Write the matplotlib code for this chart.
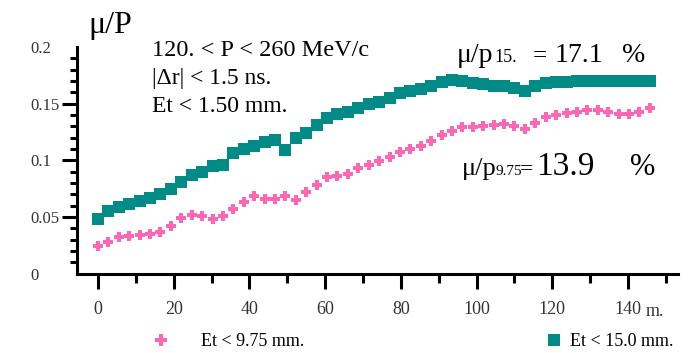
import matplotlib
matplotlib.use("Agg")
import matplotlib.pyplot as plt
from matplotlib.lines import Line2D

plt.rcParams['font.family'] = ['Liberation Serif', 'DejaVu Serif']

# ---- data ----
x_m = [0, 2.75, 5.5, 8.25, 11, 13.75, 16.5, 19.25, 22, 24.75, 27.5, 30.25, 33, 35.75,
       38.5, 41.25, 44, 46.75, 49.5, 52.25, 55, 57.75, 60.5, 63.25, 66, 68.75, 71.5,
       74.25, 77, 79.75, 82.5, 85.25, 88, 90.75, 93.5, 96.25, 99, 101.75, 104.5,
       107.25, 110, 112.75, 115.5, 118.25, 121, 123.75, 126.5, 129.25, 132, 134.75,
       137.5, 140.25, 143, 145.75]

ratio_975 = [0.024, 0.028, 0.032, 0.033, 0.034, 0.035, 0.0365, 0.042, 0.049, 0.052,
             0.051, 0.048, 0.051, 0.057, 0.063, 0.068, 0.066, 0.066, 0.068, 0.065,
             0.072, 0.078, 0.085, 0.086, 0.088, 0.093, 0.096, 0.099, 0.103, 0.107,
             0.110, 0.113, 0.117, 0.122, 0.126, 0.129, 0.129, 0.130, 0.131, 0.132,
             0.130, 0.128, 0.133, 0.138, 0.140, 0.142, 0.143, 0.144, 0.144, 0.143,
             0.141, 0.141, 0.143, 0.146]

ratio_150 = [0.048, 0.055, 0.059, 0.061, 0.064, 0.067, 0.070, 0.075, 0.081, 0.087,
             0.090, 0.095, 0.096, 0.106, 0.110, 0.113, 0.116, 0.118, 0.109, 0.120,
             0.124, 0.131, 0.137, 0.141, 0.143, 0.146, 0.150, 0.151, 0.155, 0.159,
             0.161, 0.163, 0.166, 0.169, 0.171, 0.170, 0.168, 0.167, 0.166, 0.166,
             0.164, 0.161, 0.166, 0.168, 0.169, 0.169, 0.170, 0.170, 0.170, 0.170,
             0.170, 0.170, 0.170, 0.170]

x_ticks = [0, 20, 40, 60, 80, 100, 120, 140]
x_tick_labels = ["0", "20", "40", "60", "80", "100", "120", "140"]
x_minor = [10, 30, 50, 70, 90, 110, 130, 150]
y_ticks = [0, 0.05, 0.1, 0.15, 0.2]
y_tick_labels = ["0", "0.05", "0.1", "0.15", "0.2"]

PINK = '#ff66b4'
TEAL = '#008b87'

W, H = 700, 353
fig = plt.figure(figsize=(7.0, 3.53), dpi=100)
ax = fig.add_axes([77 / W, 1 - 273.5 / H, (678 - 77) / W, (273.5 - 47) / H])

ax.plot(x_m, ratio_150, linestyle='none', marker='s', markersize=8.6,
        color=TEAL, markeredgewidth=0)
ax.plot(x_m, ratio_975, linestyle='none', marker='P', markersize=7.2,
        color=PINK, markeredgewidth=0)

ax.set_xlim(-5.55, 153.2)
ax.set_ylim(0, 0.2)

for s in ['top', 'right']:
    ax.spines[s].set_visible(False)
for s in ['left', 'bottom']:
    ax.spines[s].set_linewidth(2.2)

ax.set_xticks(x_ticks)
ax.set_xticklabels(x_tick_labels, fontsize=13)
ax.set_xticks(x_minor, minor=True)
ax.set_yticks(y_ticks)
ax.set_yticklabels(y_tick_labels, fontsize=12)
ax.set_yticks([v / 100 for v in range(1, 20) if v % 5 != 0], minor=True)

ax.tick_params(axis='x', which='major', direction='out', length=10.8, width=2.2,
               pad=9)
ax.tick_params(axis='x', which='minor', direction='out', length=6.5, width=2.2)
ax.tick_params(axis='y', which='major', direction='out', length=10.8, width=2.2,
               pad=23)
ax.tick_params(axis='y', which='minor', direction='out', length=5, width=2.2)
for lbl in ax.get_yticklabels():
    lbl.set_horizontalalignment('left')
yt = ax.yaxis.get_major_ticks()
yt[0].tick1line.set_visible(False)
yt[-1].tick1line.set_visible(False)

for lbl in ax.get_xticklabels() + ax.get_yticklabels():
    lbl.set_color('#333333')


def ftext(px, py, s, **kw):
    fig.text(px / W, 1 - py / H, s, **kw)


# axis title
ftext(88, 33, "μ/P", fontsize=23, va='baseline', ha='left')
ftext(646, 312, "m.", fontsize=13, va='center', ha='left', color='#333333')

# cuts
ftext(152, 56, "120. < P < 260 MeV/c", fontsize=17.5, va='baseline', ha='left')
ftext(152, 84, "|Δr| < 1.5 ns.", fontsize=17, va='baseline', ha='left')
ftext(152, 112, "Et < 1.50 mm.", fontsize=17, va='baseline', ha='left')

# efficiencies
ftext(457, 62, "μ/p", fontsize=20, va='baseline', ha='left')
ftext(494, 62, "15.", fontsize=13, va='baseline', ha='left')
ftext(533, 62, "=", fontsize=18, va='baseline', ha='left')
ftext(555, 62, "17.1", fontsize=20, va='baseline', ha='left')
ftext(622, 62, "%", fontsize=20, va='baseline', ha='left')

ftext(462, 175, "μ/p", fontsize=19, va='baseline', ha='left')
ftext(495, 175, "9.75", fontsize=11, va='baseline', ha='left')
ftext(520, 175, "=", fontsize=17, va='baseline', ha='left')
ftext(536, 175, "13.9", fontsize=24, va='baseline', ha='left')
ftext(630, 175, "%", fontsize=22, va='baseline', ha='left')

# legend
h1 = Line2D([], [], linestyle='none', marker='P', markersize=8, color=PINK,
            markeredgewidth=0)
h2 = Line2D([], [], linestyle='none', marker='s', markersize=9, color=TEAL,
            markeredgewidth=0)
fig.legend([h1], ["Et < 9.75 mm."], loc='center left',
           bbox_to_anchor=(152 / W, 1 - 342 / H), frameon=False, fontsize=13,
           handlelength=1.0, handletextpad=1.7, borderaxespad=0, borderpad=0)
fig.legend([h2], ["Et < 15.0 mm."], loc='center left',
           bbox_to_anchor=(545 / W, 1 - 342 / H), frameon=False, fontsize=13,
           handlelength=1.0, handletextpad=0.4, borderaxespad=0, borderpad=0)

fig.savefig("out.png", dpi=100)
